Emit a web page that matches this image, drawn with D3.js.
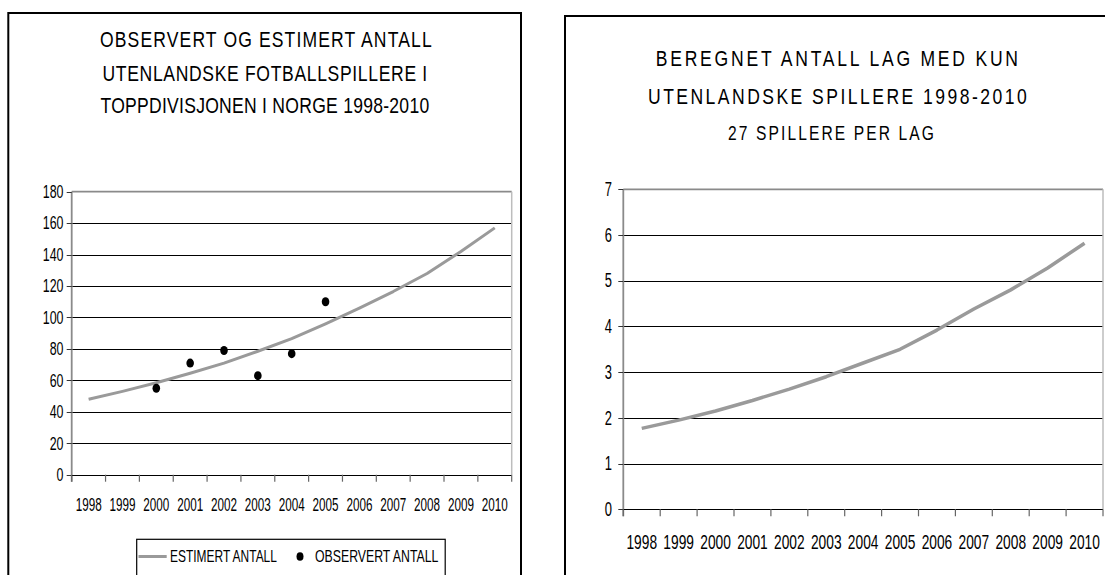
<!DOCTYPE html>
<html>
<head>
<meta charset="utf-8">
<script src="https://cdn.jsdelivr.net/npm/d3@7"></script>
<style>
  html, body { margin: 0; padding: 0; background: #fff; }
  svg { display: block; }
  text { font-family: "Liberation Sans", Arial, sans-serif; fill: #000; }
</style>
</head>
<body>
<svg id="chart" width="1105" height="575"></svg>
<script>
// ---------- DATA ----------
const years = ["1998","1999","2000","2001","2002","2003","2004","2005","2006","2007","2008","2009","2010"];
const estimertAntall = [48, 53, 58.5, 64.5, 71, 78.5, 86.5, 96, 106, 116.5, 128, 142, 157];
const observertYears = ["2000","2001","2002","2003","2004","2005"];
const observertAntall = [55, 71, 79, 63, 77, 110];
const lagMedKun = [1.77, 1.95, 2.15, 2.38, 2.63, 2.9, 3.2, 3.5, 3.92, 4.38, 4.8, 5.28, 5.82];
const leftTicks = [0, 20, 40, 60, 80, 100, 120, 140, 160, 180];
const rightTicks = [0, 1, 2, 3, 4, 5, 6, 7];
const leftTitle = ["OBSERVERT OG ESTIMERT ANTALL", "UTENLANDSKE FOTBALLSPILLERE I", "TOPPDIVISJONEN I NORGE 1998-2010"];
const rightTitle = ["BEREGNET ANTALL LAG MED KUN", "UTENLANDSKE SPILLERE 1998-2010", "27 SPILLERE PER LAG"];
const legendLabels = ["ESTIMERT ANTALL", "OBSERVERT ANTALL"];

// ---------- DRAW ----------
const svg = d3.select("#chart");
const LINE_GRAY = "#9a9a9a";
const AXIS_GRAY = "#8a8a8a";

function fitText(g, str, x, y, size, anchor, targetW) {
  const t = g.append("text").text(str).attr("font-size", size).attr("text-anchor", anchor);
  const w = t.node().getComputedTextLength();
  const s = w > 0 ? targetW / w : 1;
  t.attr("transform", `translate(${x},${y}) scale(${s},1)`);
  return t;
}
function titleText(g, str, cx, y, size, targetW, glyphScale) {
  const t = g.append("text").text(str).attr("font-size", size).attr("text-anchor", "start");
  const w0 = t.node().getComputedTextLength();
  const n = str.length;
  const ls = (targetW / glyphScale - w0) / (n - 1);
  t.attr("letter-spacing", ls);
  const left = cx - targetW / 2;
  t.attr("transform", `translate(${left},${y}) scale(${glyphScale},1)`);
  return t;
}

function drawPanel(cfg) {
  const g = svg.append("g");
  g.append("rect").attr("x", cfg.box[0]).attr("y", cfg.box[1]).attr("width", cfg.box[2]).attr("height", cfg.box[3])
    .attr("fill", "none").attr("stroke", "#000").attr("stroke-width", 2);

  cfg.title.forEach((t, i) => {
    titleText(g, t, cfg.titleX[i], cfg.titleY[i], cfg.titleSize[i], cfg.titleW[i], 0.78);
  });

  const x = d3.scaleBand().domain(years).range(cfg.xRange);
  const y = d3.scaleLinear().domain(cfg.yDomain).range(cfg.yRange);
  const [x0, x1] = cfg.xRange;
  const top = y(cfg.yDomain[1]);
  const bottom = y(0);

  g.selectAll(".grid").data(cfg.ticks.filter(v => v > 0 && v < cfg.yDomain[1])).join("line")
    .attr("x1", x0).attr("x2", x1)
    .attr("y1", d => Math.round(y(d)) + 0.5).attr("y2", d => Math.round(y(d)) + 0.5)
    .attr("stroke", "#000").attr("stroke-width", 1);

  g.append("line").attr("x1", x0).attr("x2", x1).attr("y1", top).attr("y2", top)
    .attr("stroke", AXIS_GRAY).attr("stroke-width", 1.8);
  g.append("line").attr("x1", x1).attr("x2", x1).attr("y1", top).attr("y2", bottom)
    .attr("stroke", "#bdbdbd").attr("stroke-width", 1.5);

  g.append("line").attr("x1", x0).attr("x2", x0).attr("y1", top).attr("y2", bottom + 7)
    .attr("stroke", AXIS_GRAY).attr("stroke-width", 1.8);
  g.selectAll(".ytick").data(cfg.ticks).join("line")
    .attr("x1", x0 - 5).attr("x2", x0)
    .attr("y1", d => Math.round(y(d)) + 0.5).attr("y2", d => Math.round(y(d)) + 0.5)
    .attr("stroke", "#333").attr("stroke-width", 1);

  g.append("line").attr("x1", x0).attr("x2", x1)
    .attr("y1", Math.round(bottom) + 0.5).attr("y2", Math.round(bottom) + 0.5)
    .attr("stroke", "#000").attr("stroke-width", 1.2);
  const bounds = years.map(d => x(d)).concat([x1]);
  g.selectAll(".xtick").data(bounds).join("line")
    .attr("x1", d => d).attr("x2", d => d)
    .attr("y1", bottom).attr("y2", bottom + 7)
    .attr("stroke", "#666").attr("stroke-width", 1.2);

  cfg.ticks.forEach(d => {
    fitText(g, String(d), cfg.yLabX, y(d) + cfg.yLabCap / 2, cfg.yLabSize, "end", String(d).length * cfg.yDigitW);
  });
  years.forEach(d => {
    fitText(g, d, x(d) + x.bandwidth() / 2, cfg.xLabY, cfg.xLabSize, "middle", d.length * cfg.xDigitW);
  });

  const line = d3.line().x((d, i) => x(years[i]) + x.bandwidth() / 2).y(d => y(d));
  g.append("path").datum(cfg.series).attr("d", line)
    .attr("fill", "none").attr("stroke", LINE_GRAY).attr("stroke-width", cfg.lineW)
    .attr("stroke-linejoin", "round");

  return { g, x, y };
}

// Left panel
const L = drawPanel({
  box: [8.3, 13, 512.7, 620],
  title: leftTitle,
  titleX: [266, 265, 265], titleY: [46.7, 81, 113.3], titleSize: [22.5, 22.5, 22.5], titleW: [332, 325, 329],
  xRange: [71.7, 511.7], yDomain: [0, 180], yRange: [474.7, 191.7],
  ticks: leftTicks,
  yLabX: 63.5, yLabCap: 12.6, yLabSize: 18.3, yDigitW: 6.9,
  xLabY: 511, xLabSize: 18.3, xDigitW: 6.5,
  series: estimertAntall, lineW: 3
});

L.g.selectAll(".obs").data(observertAntall).join("ellipse")
  .attr("cx", (d, i) => L.x(observertYears[i]) + L.x.bandwidth() / 2)
  .attr("cy", d => L.y(d))
  .attr("rx", 3.8).attr("ry", 4.5)
  .attr("fill", "#000");

const lg = L.g.append("g");
lg.append("rect").attr("x", 136.7).attr("y", 539.3).attr("width", 308.5).attr("height", 60)
  .attr("fill", "#fff").attr("stroke", "#000").attr("stroke-width", 1.2);
lg.append("line").attr("x1", 138.5).attr("x2", 166.7).attr("y1", 556.5).attr("y2", 556.5)
  .attr("stroke", LINE_GRAY).attr("stroke-width", 3);
fitText(lg, legendLabels[0], 170, 561.7, 16, "start", 107);
lg.append("ellipse").attr("cx", 300).attr("cy", 556.5).attr("rx", 3.5).attr("ry", 4.3).attr("fill", "#000");
fitText(lg, legendLabels[1], 315, 561.7, 16, "start", 123.5);

// Right panel
drawPanel({
  box: [565, 16, 620, 620],
  title: rightTitle,
  titleX: [837, 837.5, 831], titleY: [65.7, 104, 140], titleSize: [22.5, 22.5, 20], titleW: [362.6, 379, 206],
  xRange: [623.3, 1103], yDomain: [0, 7], yRange: [509.3, 189.3],
  ticks: rightTicks,
  yLabX: 612, yLabCap: 13.3, yLabSize: 19.3, yDigitW: 7.2,
  xLabY: 548.7, xLabSize: 20, xDigitW: 7.65,
  series: lagMedKun, lineW: 3.5
});
</script>
</body>
</html>
